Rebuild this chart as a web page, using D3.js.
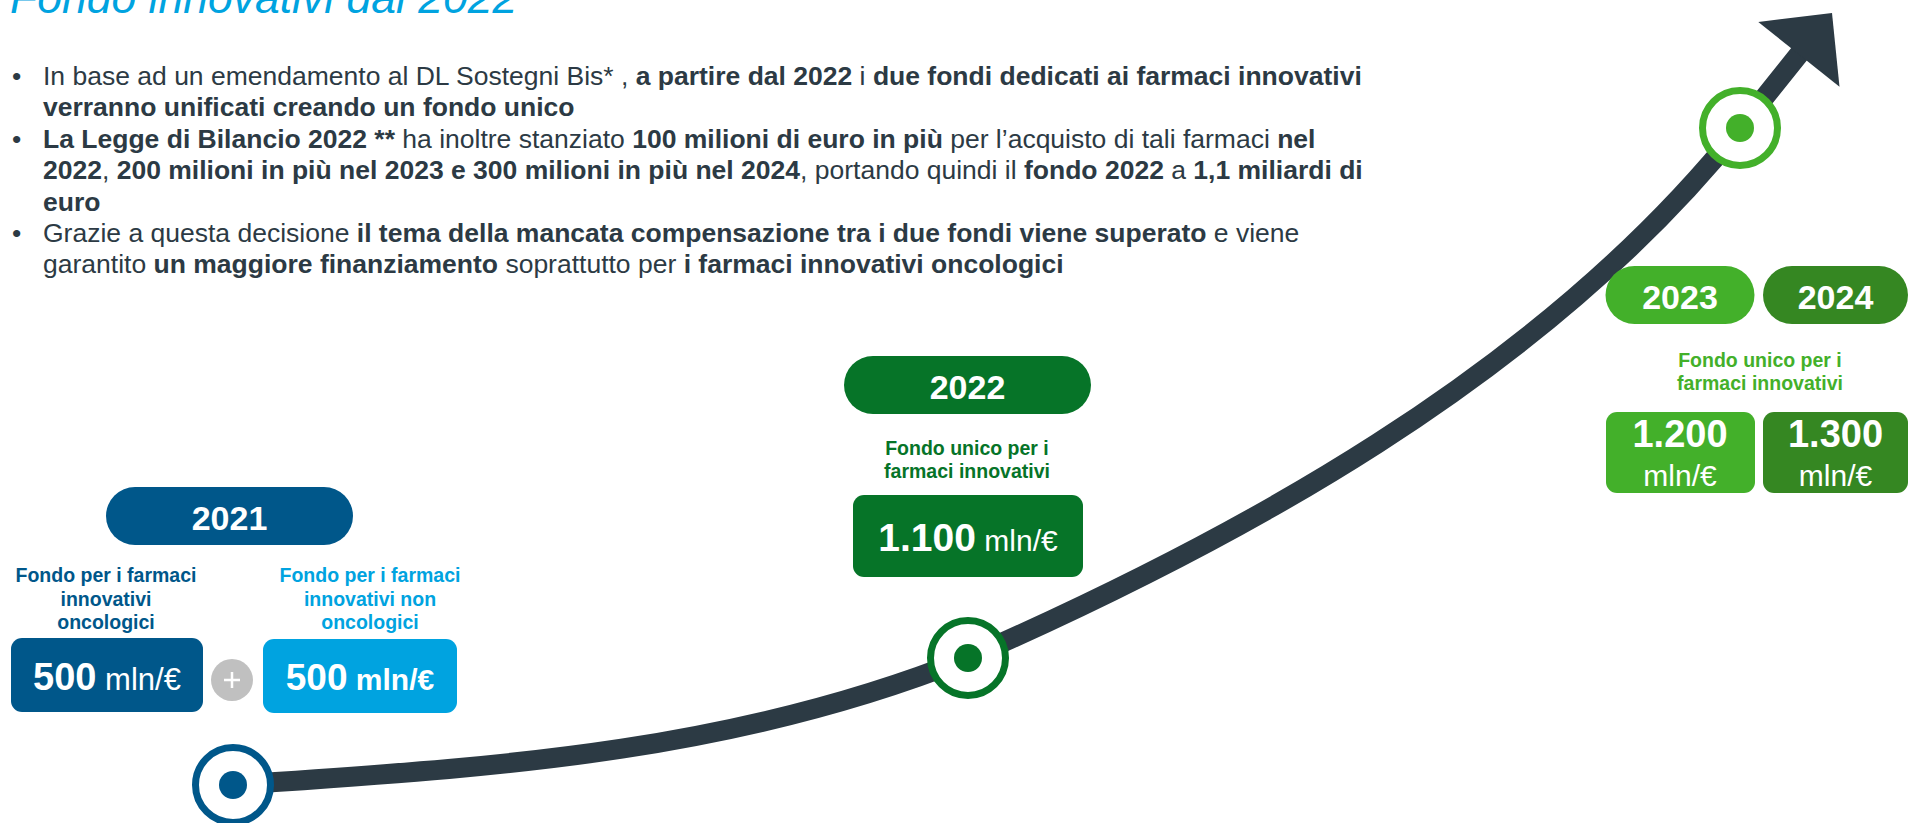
<!DOCTYPE html>
<html>
<head>
<meta charset="utf-8">
<script src="https://cdn.jsdelivr.net/npm/d3@7"></script>
<style>
body{margin:0;background:#fff;}
svg{display:block;font-family:"Liberation Sans",Arial,sans-serif;}
text{white-space:pre;}
</style>
</head>
<body>
<svg width="1910" height="823"></svg>
<script>
// dati
var title = "Fondo innovativi dal 2022";
var years2021 = [2021];
var funds2021 = [500, 500];
var funds2021Labels = [["Fondo per i farmaci", "innovativi", "oncologici"],
                       ["Fondo per i farmaci", "innovativi non", "oncologici"]];
var fundYears = [2022, 2023, 2024];
var fundUnico = [1100, 1200, 1300];
var fondoUnicoLabel = ["Fondo unico per i", "farmaci innovativi"];
var unit = "mln/€";

// testo dei punti elenco: [testo, grassetto]
var bulletLines = [
  {b: true, runs: [["In base ad un emendamento al DL Sostegni Bis* , ", 0], ["a partire dal 2022", 1], [" i ", 0], ["due fondi dedicati ai farmaci innovativi", 1]]},
  {b: false, runs: [["verranno unificati creando un fondo unico", 1]]},
  {b: true, runs: [["La Legge di Bilancio 2022 **", 1], [" ha inoltre stanziato ", 0], ["100 milioni di euro in più", 1], [" per l’acquisto di tali farmaci ", 0], ["nel", 1]]},
  {b: false, runs: [["2022", 1], [", ", 0], ["200 milioni in più nel 2023 e 300 milioni in più nel 2024", 1], [", portando quindi il ", 0], ["fondo 2022", 1], [" a ", 0], ["1,1 miliardi di", 1]]},
  {b: false, runs: [["euro", 1]]},
  {b: true, runs: [["Grazie a questa decisione ", 0], ["il tema della mancata compensazione tra i due fondi viene superato", 1], [" e viene", 0]]},
  {b: false, runs: [["garantito ", 0], ["un maggiore finanziamento", 1], [" soprattutto per ", 0], ["i farmaci innovativi oncologici", 1]]}
];

var col = {dark: "#2c3a44", blue: "#00578a", light: "#00a3e0", green: "#067428", lime: "#43b02a", mid: "#358722", grey: "#c0c0c0"};

var svg = d3.select("svg");
var it = d3.formatLocale({decimal: ",", thousands: ".", grouping: [3], currency: ["", "€"]});
var fmt = it.format(",d");

// titolo
svg.append("text")
  .attr("x", 10).attr("y", 13)
  .attr("font-size", 44.5).attr("font-style", "italic")
  .attr("fill", col.light)
  .text(title);

// elenco
var txt = svg.append("g");
bulletLines.forEach(function(ln, i) {
  var yy = 85 + i * 31.4;
  if (ln.b) txt.append("text").attr("x", 12).attr("y", yy).attr("font-size", 26.5).attr("fill", col.dark).text("•");
  var t = txt.append("text").attr("x", 43).attr("y", yy).attr("font-size", 26.5).attr("fill", col.dark);
  ln.runs.forEach(function(r) {
    t.append("tspan").attr("font-weight", r[1] ? "bold" : null).text(r[0]);
  });
});

//////////// CURVA ////////////
// anni sulla curva e fondo totale di ciascun anno
var markers = [
  {year: years2021[0], total: d3.sum(funds2021), color: col.blue},
  {year: fundYears[0], total: fundUnico[0], color: col.green},
  {year: fundYears[1], total: fundUnico[1], color: col.lime}
];

var x = d3.scaleLinear()
  .domain(markers.map(function(d) { return d.year; }))
  .range([233, 968, 1740]);
var y = d3.scaleLinear()
  .domain(markers.map(function(d) { return d.total; }))
  .range([785, 658, 128]);

var pts = markers.map(function(d) { return [x(d.year), y(d.total)]; });

// punta della freccia
var tip = [1832, 13], headLen = 53, headHalf = 52;
var dx = tip[0] - pts[2][0], dy = tip[1] - pts[2][1], dl = Math.sqrt(dx * dx + dy * dy);
var u = [dx / dl, dy / dl], n = [-u[1], u[0]];
var base = [tip[0] - headLen * u[0], tip[1] - headLen * u[1]];

function seg(p, a, b, sa, sb, ha, hb) {
  p.bezierCurveTo(a[0] + ha, a[1] + ha * sa, b[0] - hb, b[1] - hb * sb, b[0], b[1]);
}
var p = d3.path();
p.moveTo(pts[0][0], pts[0][1]);
seg(p, pts[0], pts[1], -0.07, -0.40, 245, 245);
seg(p, pts[1], pts[2], -0.44, -1.25, 262, 200);
p.lineTo(base[0] + 4 * u[0], base[1] + 4 * u[1]);

svg.append("path")
  .attr("d", p.toString())
  .attr("fill", "none")
  .attr("stroke", col.dark)
  .attr("stroke-width", 20);

svg.append("path")
  .attr("d", d3.line()([tip,
    [base[0] + headHalf * n[0], base[1] + headHalf * n[1]],
    [base[0] - headHalf * n[0], base[1] - headHalf * n[1]]]) + "Z")
  .attr("fill", col.dark);

var mk = svg.append("g").selectAll("g").data(markers).enter().append("g")
  .attr("transform", function(d) { return "translate(" + x(d.year) + "," + y(d.total) + ")"; });
mk.append("circle").attr("r", 37.5).attr("fill", "#fff")
  .attr("stroke", function(d) { return d.color; }).attr("stroke-width", 7);
mk.append("circle").attr("r", 14).attr("fill", function(d) { return d.color; });

//////////// ETICHETTE ////////////
function pill(cx, top, w, label, color) {
  svg.append("rect").attr("x", cx - w / 2).attr("y", top).attr("width", w).attr("height", 58)
    .attr("rx", 29).attr("fill", color);
  svg.append("text").attr("x", cx).attr("y", top + 43).attr("text-anchor", "middle")
    .attr("font-size", 34).attr("font-weight", "bold").attr("fill", "#fff").text(label);
}
function label(cx, top, lines, color, lh) {
  var t = svg.append("text").attr("text-anchor", "middle").attr("font-size", 19.5)
    .attr("font-weight", "bold").attr("fill", color);
  lines.forEach(function(l, i) {
    t.append("tspan").attr("x", cx).attr("y", top + i * lh).text(l);
  });
}
function box(bx, by, w, h, color) {
  svg.append("rect").attr("x", bx).attr("y", by).attr("width", w).attr("height", h)
    .attr("rx", 11).attr("fill", color);
}
function valueInline(cx, by, v, unitBold, numSize, unitSize) {
  var t = svg.append("text").attr("x", cx).attr("y", by).attr("text-anchor", "middle").attr("fill", "#fff");
  t.append("tspan").attr("font-size", numSize).attr("font-weight", "bold").text(fmt(v));
  t.append("tspan").attr("font-size", unitSize).attr("font-weight", unitBold ? "bold" : null).text(" " + unit);
}

// 2021
pill(229.5, 487, 247, years2021[0], col.blue);
label(106, 582, funds2021Labels[0], col.blue, 23.5);
label(370, 582, funds2021Labels[1], col.light, 23.5);
box(11, 638, 192, 74, col.blue);
valueInline(107, 690, funds2021[0], false, 38, 31);
box(263, 639, 194, 74, col.light);
valueInline(360, 690, funds2021[1], true, 37, 30);
svg.append("circle").attr("cx", 232).attr("cy", 680).attr("r", 21).attr("fill", col.grey);
svg.append("path").attr("d", "M224,680H240M232,672V688").attr("stroke", "#fff").attr("stroke-width", 2.5);

// 2022
pill(967.5, 356, 247, fundYears[0], col.green);
label(967, 455, fondoUnicoLabel, col.green, 22.5);
box(853, 495, 230, 82, col.green);
valueInline(968, 551, fundUnico[0], false, 39, 30);

// 2023 - 2024
var rightCols = [{cx: 1680, bx: 1606, w: 149, c: col.lime}, {cx: 1835.5, bx: 1763, w: 145, c: col.mid}];
rightCols.forEach(function(r, i) {
  pill(r.cx, 266, r.w, fundYears[i + 1], r.c);
  box(r.bx, 412, r.w, 81, r.c);
  svg.append("text").attr("x", r.cx).attr("y", 447).attr("text-anchor", "middle")
    .attr("font-size", 38).attr("font-weight", "bold").attr("fill", "#fff").text(fmt(fundUnico[i + 1]));
  svg.append("text").attr("x", r.cx).attr("y", 486).attr("text-anchor", "middle")
    .attr("font-size", 30).attr("fill", "#fff").text(unit);
});
label(1760, 367, fondoUnicoLabel, col.lime, 23);
</script>
</body>
</html>
